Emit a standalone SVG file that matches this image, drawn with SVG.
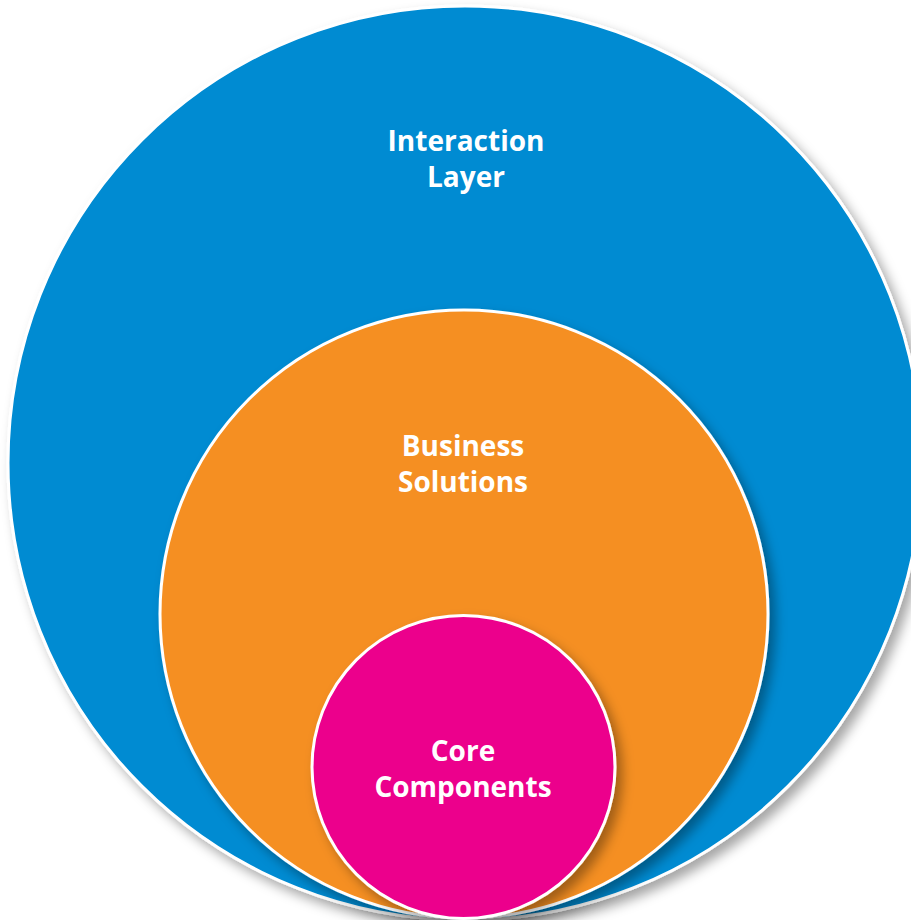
<svg xmlns="http://www.w3.org/2000/svg" width="911" height="920" viewBox="0 0 911 920">
<defs>
<filter id="sh" x="-10%" y="-10%" width="125%" height="125%">
<feDropShadow dx="6" dy="7" stdDeviation="6" flood-color="#000" flood-opacity="0.35"/>
</filter>
</defs>
<style>
.ring{stroke:#fff;stroke-width:3;filter:url(#sh)}
.lbl{font-family:"Open Sans",Lato,"Liberation Sans",sans-serif;font-weight:700;font-size:28px;fill:#fff;text-anchor:middle}
</style>
<rect width="911" height="920" fill="#fff"/>
<g id="interaction-layer">
<circle class="ring" cx="465" cy="463" r="457" fill="#008BD2"/>
<text class="lbl" x="466" y="151">Interaction</text>
<text class="lbl" x="466" y="187">Layer</text>
</g>
<g id="business-solutions">
<circle class="ring" cx="464" cy="614" r="304" fill="#F58F20"/>
<text class="lbl" x="463" y="456">Business</text>
<text class="lbl" x="463" y="492">Solutions</text>
</g>
<g id="core-components">
<circle class="ring" cx="463.5" cy="767" r="151.5" fill="#EC008C"/>
<text class="lbl" x="463" y="761">Core</text>
<text class="lbl" x="463" y="797">Components</text>
</g>
<g id="connectors"/>
</svg>
